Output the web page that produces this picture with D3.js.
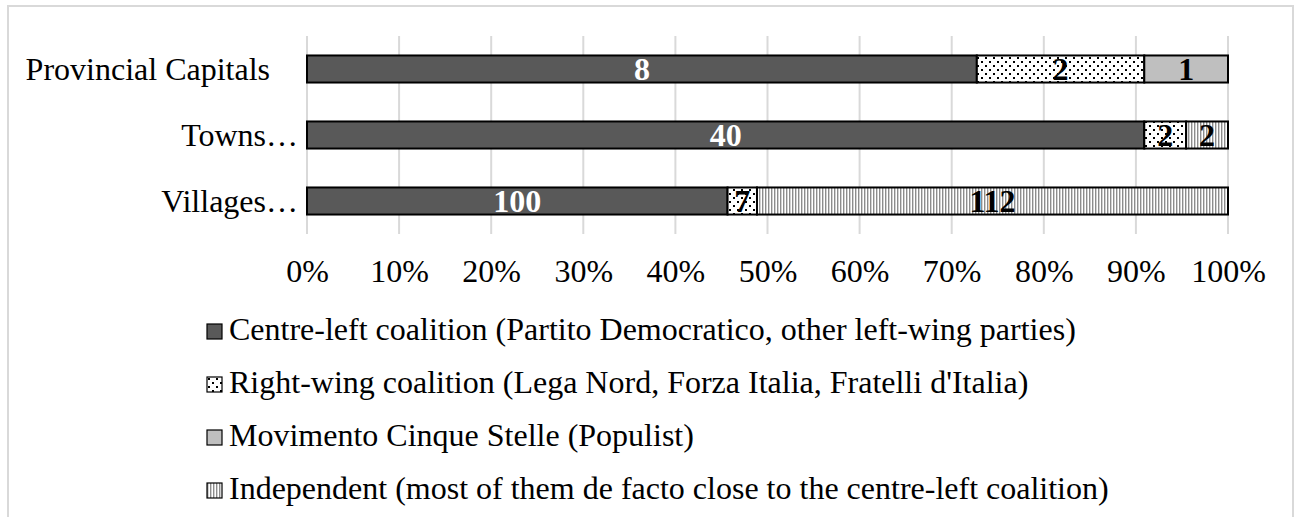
<!DOCTYPE html>
<html>
<head>
<meta charset="utf-8">
<script src="https://cdn.jsdelivr.net/npm/d3@7"></script>
<style>
  html, body { margin: 0; padding: 0; background: #fff; }
  svg { display: block; font-family: "Liberation Serif", "Times New Roman", serif; }
</style>
</head>
<body>
<svg id="chart" width="1294" height="517"></svg>
<script>
// data
const categories = ['Provincial Capitals', 'Towns\u2026', 'Villages\u2026'];
const seriesNames = [
  'Centre-left coalition (Partito Democratico, other left-wing parties)',
  'Right-wing coalition (Lega Nord, Forza Italia, Fratelli d\'Italia)',
  'Movimento Cinque Stelle (Populist)',
  'Independent (most of them de facto close to the centre-left coalition)',
];
const centreLeft = [8, 40, 100];
const rightWing = [2, 2, 7];
const cinqueStelle = [1, 0, 0];
const independent = [0, 2, 112];
const tickValues = [0, 0.1, 0.2, 0.3, 0.4, 0.5, 0.6, 0.7, 0.8, 0.9, 1];

const svg = d3.select('#chart');
const width = 1294;
const height = 517;
const fontSize = 32;

const margin = { top: 36, left: 307, right: 66 };
const plotW = width - margin.left - margin.right;
const plotH = 198;

// chart border (light grey frame)
svg.append('rect')
  .attr('x', 8).attr('y', 6)
  .attr('width', width - 9).attr('height', height + 10)
  .attr('fill', 'none')
  .attr('stroke', '#d9d9d9')
  .attr('stroke-width', 2);

const defs = svg.append('defs');

const dots = defs.append('pattern')
  .attr('id', 'dots')
  .attr('patternUnits', 'userSpaceOnUse')
  .attr('width', 8).attr('height', 8);
dots.append('rect').attr('width', 8).attr('height', 8).attr('fill', '#fff');
dots.append('rect').attr('x', 1).attr('y', 1).attr('width', 2).attr('height', 2).attr('fill', '#000');
dots.append('rect').attr('x', 5).attr('y', 5).attr('width', 2).attr('height', 2).attr('fill', '#000');

const stripes = defs.append('pattern')
  .attr('id', 'stripes')
  .attr('patternUnits', 'userSpaceOnUse')
  .attr('width', 3).attr('height', 4);
stripes.append('rect').attr('width', 3).attr('height', 4).attr('fill', '#fff');
stripes.append('rect').attr('x', 0).attr('width', 1.4).attr('height', 4).attr('fill', '#8c8c8c');

const fills = ['#595959', 'url(#dots)', '#bfbfbf', 'url(#stripes)'];
const labelColors = ['#fff', '#000', '#000', '#000'];

const x = d3.scaleLinear().domain([0, 1]).range([margin.left, margin.left + plotW]);
const y = d3.scaleBand()
  .domain(categories)
  .range([margin.top, margin.top + plotH])
  .paddingInner(0.59)
  .paddingOuter(0.295);

// gridlines
svg.append('g')
  .selectAll('line')
  .data(tickValues)
  .join('line')
  .attr('x1', (d) => x(d)).attr('x2', (d) => x(d))
  .attr('y1', margin.top).attr('y2', margin.top + plotH)
  .attr('stroke', '#d9d9d9')
  .attr('stroke-width', 2);

// stack the rows as shares
const rows = categories.map((c, i) => {
  return { cat: c, values: [centreLeft[i], rightWing[i], cinqueStelle[i], independent[i]] };
});
const segments = [];
rows.forEach((r) => {
  const total = d3.sum(r.values);
  let acc = 0;
  r.values.forEach((v, k) => {
    segments.push({ cat: r.cat, k, v, x0: acc / total, x1: (acc + v) / total });
    acc += v;
  });
});
const shown = segments.filter((s) => s.v > 0);

svg.append('g')
  .selectAll('rect')
  .data(shown)
  .join('rect')
  .attr('x', (d) => x(d.x0))
  .attr('y', (d) => y(d.cat))
  .attr('width', (d) => x(d.x1) - x(d.x0))
  .attr('height', y.bandwidth())
  .attr('fill', (d) => fills[d.k])
  .attr('stroke', '#000')
  .attr('stroke-width', 2);

svg.append('g')
  .selectAll('text')
  .data(shown)
  .join('text')
  .attr('x', (d) => (x(d.x0) + x(d.x1)) / 2)
  .attr('y', (d) => y(d.cat) + y.bandwidth() / 2)
  .attr('dy', '0.34em')
  .attr('text-anchor', 'middle')
  .attr('font-weight', 'bold')
  .attr('font-size', fontSize)
  .attr('fill', (d) => labelColors[d.k])
  .text((d) => d.v);

// category axis
const catOffset = { 'Provincial Capitals': 28 };
svg.append('g')
  .selectAll('text')
  .data(categories)
  .join('text')
  .attr('x', (d) => 298 - (catOffset[d] || 0))
  .attr('y', (d) => y(d) + y.bandwidth() / 2)
  .attr('dy', '0.34em')
  .attr('text-anchor', 'end')
  .attr('font-size', fontSize)
  .attr('fill', '#000')
  .text((d) => d);

// value axis
const xAxis = svg.append('g')
  .attr('transform', `translate(0,${margin.top + plotH})`)
  .call(d3.axisBottom(x).tickValues(tickValues).tickFormat(d3.format('.0%')).tickSize(0).tickPadding(48));
xAxis.select('.domain').remove();
xAxis.selectAll('text')
  .attr('font-family', '"Liberation Serif", "Times New Roman", serif')
  .attr('font-size', fontSize)
  .attr('fill', '#000')
  .attr('dy', 0);

// legend
const legend = svg.append('g')
  .selectAll('g')
  .data(seriesNames)
  .join('g')
  .attr('transform', (d, i) => `translate(207,${332 + i * 53})`);
legend.append('rect')
  .attr('x', 0).attr('y', -8)
  .attr('width', 15).attr('height', 15)
  .attr('fill', (d, i) => fills[i])
  .attr('stroke', '#000')
  .attr('stroke-width', 1.2);
legend.append('text')
  .attr('x', 22)
  .attr('y', 0)
  .attr('dy', '0.26em')
  .attr('font-size', fontSize)
  .attr('fill', '#000')
  .text((d) => d);
</script>
</body>
</html>
